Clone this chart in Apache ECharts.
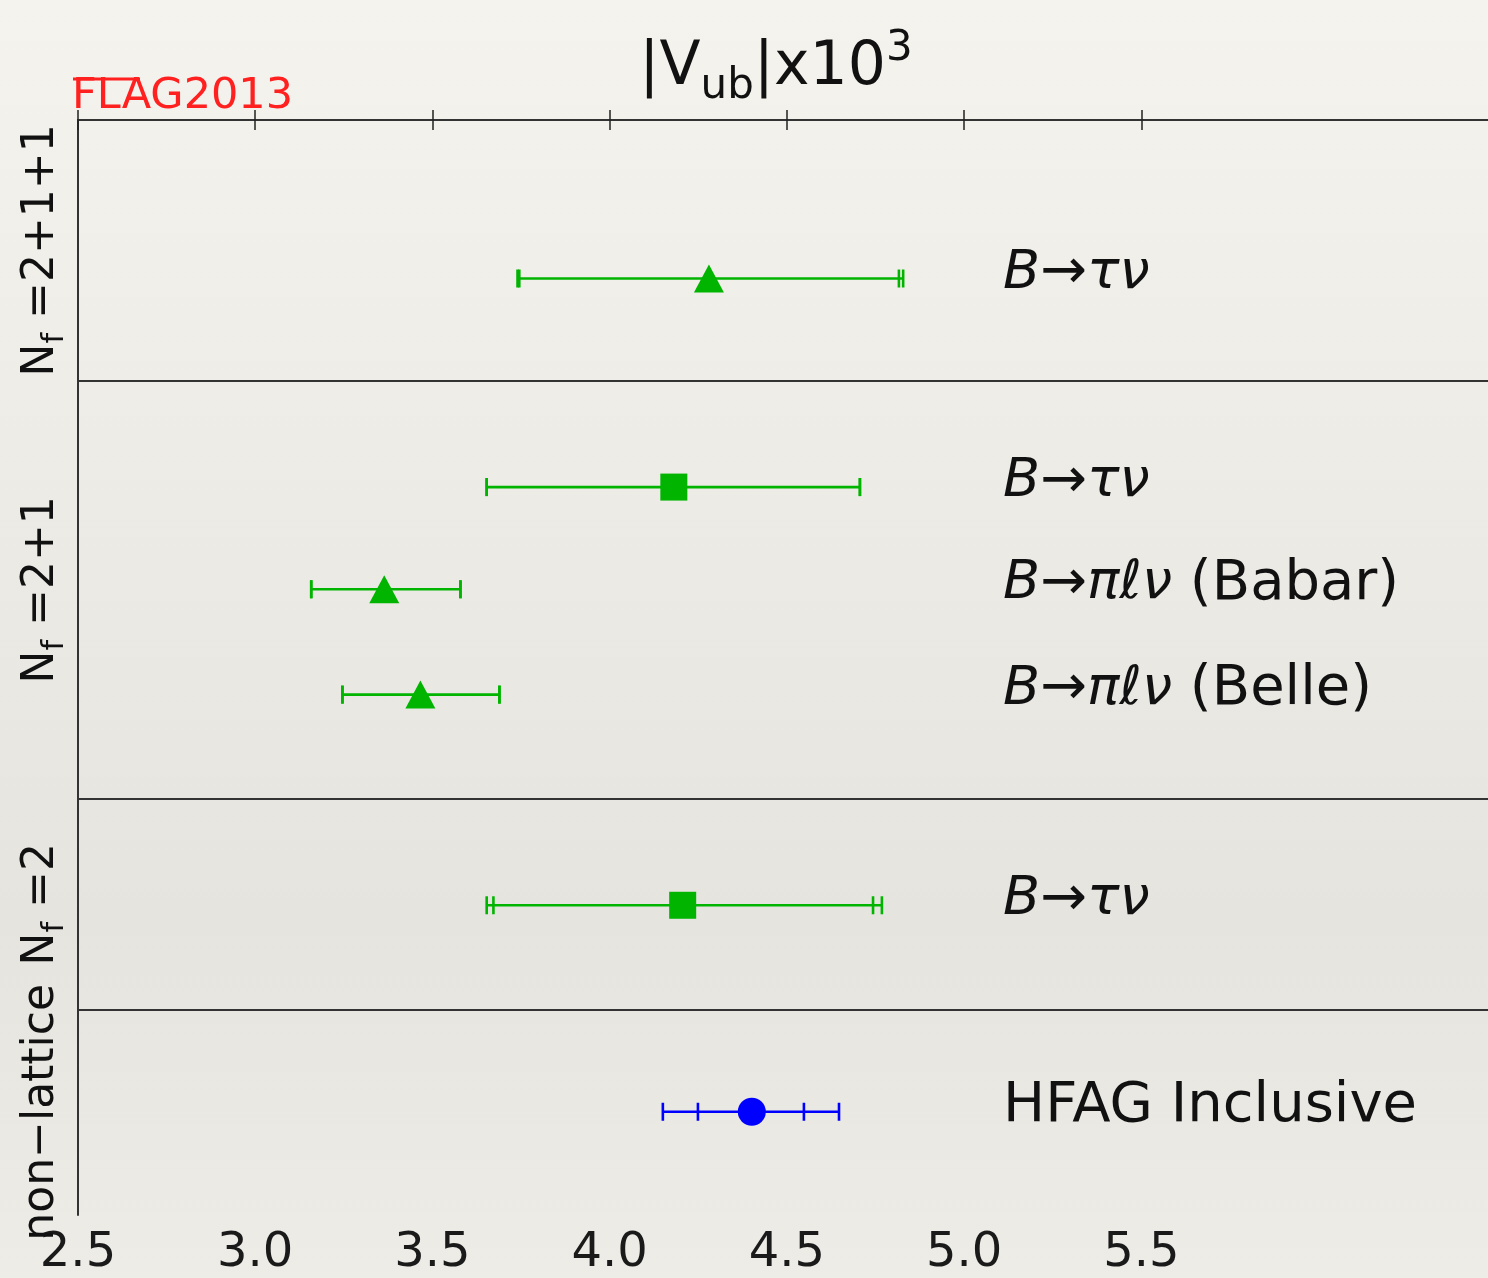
<!DOCTYPE html>
<html>
<head>
<meta charset="utf-8">
<script src="https://cdn.jsdelivr.net/npm/echarts@6/dist/echarts.min.js"></script>
<style>
html,body{margin:0;padding:0;}
#c{width:1488px;height:1278px;}
</style>
</head>
<body>
<div id="c"></div>
<script>
// ---- data ----
const rowY    = [1.52, 3.52, 4.5, 5.51, 7.53, 9.51];
const centers = [4.28, 4.181, 3.364, 3.466, 4.206, 4.401];
const statLo  = [3.745, 3.653, 3.158, 3.246, 3.672, 4.249];
const statHi  = [4.816, 4.706, 3.579, 3.689, 4.743, 4.548];
const totLo   = [3.740, 3.653, 3.158, 3.246, 3.653, 4.150];
const totHi   = [4.828, 4.706, 3.579, 3.689, 4.768, 4.647];
const symbols = ['triangle', 'rect', 'triangle', 'triangle', 'rect', 'circle'];
const colors  = ['#00b400', '#00b400', '#00b400', '#00b400', '#00b400', '#0000ff'];
const rowLabels = [
  '{i|B}{n|→}{i|τν}',
  '{i|B}{n|→}{i|τν}',
  '{i|B}{n|→}{i|πℓν}{n| (Babar)}',
  '{i|B}{n|→}{i|πℓν}{n| (Belle)}',
  '{i|B}{n|→}{i|τν}',
  '{n|HFAG Inclusive}'
];
const labelX = 5.11;
const groupBounds = [0, 2.5, 6.51, 8.53, 10.5];
const groupLabels = [
  '{m|N}{s|f}{m| =2+1+1}',
  '{m|N}{s|f}{m| =2+1}',
  '{m|N}{s|f}{m| =2}',
  '{m|non−lattice}'
];
const tickValues = [2.5, 3.0, 3.5, 4.0, 4.5, 5.0, 5.5];
const xMin = 2.5, xMax = 6.478;

const FONT = 'DejaVu Sans';
const chart = echarts.init(document.getElementById('c'), null, {renderer: 'canvas'});

const errData = rowY.map((y, i) => [centers[i], y, statLo[i], statHi[i], totLo[i], totHi[i], i]);

function renderErr(params, api) {
  const y = api.value(1);
  const i = api.value(6);
  const col = colors[i];
  const pLo1 = api.coord([api.value(2), y]);
  const pHi1 = api.coord([api.value(3), y]);
  const pLo2 = api.coord([api.value(4), y]);
  const pHi2 = api.coord([api.value(5), y]);
  const left = Math.min(pLo1[0], pLo2[0]);
  const right = Math.max(pHi1[0], pHi2[0]);
  const yy = pLo1[1];
  const h = 9;
  const st = {stroke: col, lineWidth: 2.6};
  const kids = [{type: 'line', shape: {x1: left, y1: yy, x2: right, y2: yy}, style: st}];
  [pLo1[0], pHi1[0], pLo2[0], pHi2[0]].forEach(x => {
    kids.push({type: 'line', shape: {x1: x, y1: yy - h, x2: x, y2: yy + h}, style: st});
  });
  return {type: 'group', children: kids};
}

const option = {
  backgroundColor: {
    type: 'linear', x: 0, y: 0, x2: 0, y2: 1,
    colorStops: [
      {offset: 0, color: '#f5f3ee'},
      {offset: 0.3, color: '#efede8'},
      {offset: 0.72, color: '#e6e4df'},
      {offset: 1, color: '#eeece7'}
    ]
  },
  animation: false,
  grid: {left: 78, top: 120, right: 0, height: 1097},
  xAxis: [
    {
      type: 'value', min: xMin, max: xMax, position: 'bottom',
      splitLine: {show: false},
      axisLine: {show: true, lineStyle: {color: '#333', width: 2}},
      axisTick: {show: true, inside: true, length: 10, customValues: tickValues, lineStyle: {color: '#222', width: 1.5}},
      axisLabel: {show: true, customValues: tickValues, margin: 15, fontFamily: FONT, fontSize: 48, color: '#1a1a1a',
        formatter: v => v.toFixed(1)}
    },
    {
      type: 'value', min: xMin, max: xMax, position: 'top',
      splitLine: {show: false},
      axisLine: {show: true, lineStyle: {color: '#333', width: 2}},
      axisTick: {show: true, inside: true, length: 10, customValues: tickValues, lineStyle: {color: '#222', width: 1.5}},
      axisLabel: {show: false}
    }
  ],
  yAxis: {
    type: 'value', min: 0, max: 10.5, inverse: true,
    splitLine: {show: false},
    axisLine: {show: true, lineStyle: {color: '#333', width: 2}},
    axisTick: {show: false}, axisLabel: {show: false}
  },
  series: [
    {
      type: 'custom', renderItem: renderErr, data: errData, z: 3,
      encode: {x: 0, y: 1}
    },
    {
      type: 'scatter', z: 4,
      data: rowY.map((y, i) => ({
        value: [centers[i], y], symbol: symbols[i],
        symbolSize: symbols[i] === 'rect' ? 27 : (symbols[i] === 'circle' ? 28 : [30, 28]),
        itemStyle: {color: colors[i], opacity: 1}
      }))
    },
    {
      type: 'scatter', z: 5, symbolSize: 0,
      itemStyle: {opacity: 1},
      data: rowY.map((y, i) => [labelX, y, i]),
      label: {
        show: true, position: 'right', distance: 0, offset: [0, -5],
        formatter: p => rowLabels[p.value[2]],
        rich: {
          i: {fontFamily: FONT, fontStyle: 'italic', fontSize: 54, color: '#111'},
          n: {fontFamily: FONT, fontSize: 56, color: '#111'}
        }
      },
      markLine: {
        silent: true, symbol: 'none', animation: false,
        label: {show: false},
        lineStyle: {color: '#333', width: 2, type: 'solid', opacity: 1},
        data: groupBounds.slice(1, -1).map(b => ({yAxis: b}))
      }
    }
  ]
};
chart.setOption(option);

// title, logo, group labels
const graphics = [];
graphics.push({
  type: 'text', z: 10,
  style: {
    text: '|V{sub|ub}|x10{sup|3}', x: 776, y: 68, align: 'center', verticalAlign: 'middle',
    rich: {
      sub: {fontFamily: FONT, fontSize: 42, lineHeight: 30, verticalAlign: 'bottom', fill: '#111'},
      sup: {fontFamily: FONT, fontSize: 42, lineHeight: 30, verticalAlign: 'top', fill: '#111'}
    },
    font: '60px "DejaVu Sans"', fill: '#111', lineHeight: 80
  }
});
graphics.push({
  type: 'text', z: 10,
  style: {text: 'FLAG2013', x: 72, y: 97, verticalAlign: 'middle', font: '43px "DejaVu Sans"', fill: '#ff2020'}
});
graphics.push({
  type: 'line', z: 10,
  shape: {x1: 73, y1: 79, x2: 140, y2: 79},
  style: {stroke: '#ff2020', lineWidth: 3}
});
for (let g = 0; g < groupLabels.length; g++) {
  const yc = chart.convertToPixel({yAxisIndex: 0}, (groupBounds[g] + groupBounds[g + 1]) / 2);
  graphics.push({
    type: 'text', z: 10, x: 42, y: yc, rotation: Math.PI / 2,
    style: {
      text: groupLabels[g], x: 0, y: 0, align: 'center', verticalAlign: 'middle',
      rich: {
        m: {fontFamily: FONT, fontSize: 44, lineHeight: 56, fill: '#111', verticalAlign: 'middle'},
        s: {fontFamily: FONT, fontSize: 30, lineHeight: 24, fill: '#111', verticalAlign: 'bottom'}
      }
    }
  });
}
chart.setOption({graphic: graphics});
</script>
</body>
</html>
